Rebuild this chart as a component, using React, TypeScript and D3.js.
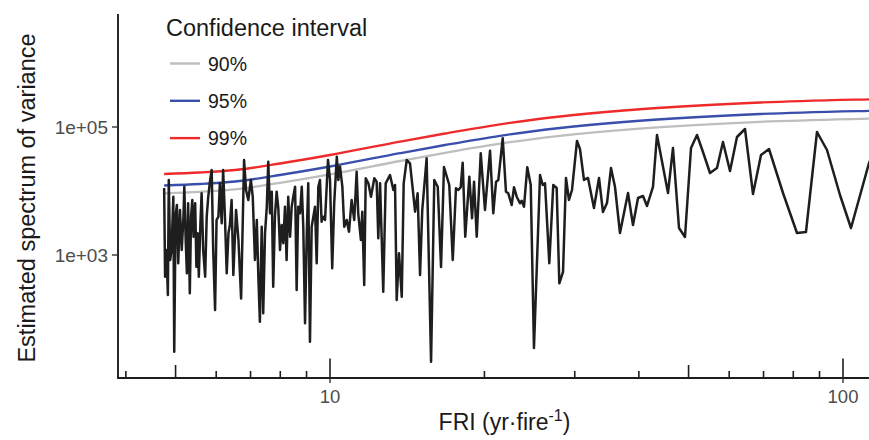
import React from "react";
import * as d3 from "d3";

// ---- Data ----
const fri = [
  4.75, 4.77, 4.80, 4.83, 4.85, 4.88, 4.91, 4.95, 4.97, 5.00, 5.03, 5.06, 5.10, 5.14, 5.18, 5.20, 5.23, 5.26, 5.29, 5.33,
  5.36, 5.39, 5.42, 5.46, 5.49, 5.52, 5.55, 5.59, 5.62, 5.66, 5.71, 5.75, 5.79, 5.84, 5.88, 5.92, 5.97, 6.01, 6.06, 6.10,
  6.15, 6.19, 6.24, 6.29, 6.34, 6.38, 6.43, 6.48, 6.56, 6.63, 6.71, 6.80, 6.86, 6.93, 7.01, 7.07, 7.14, 7.20, 7.25, 7.30,
  7.36, 7.41, 7.47, 7.53, 7.58, 7.64, 7.70, 7.75, 7.81, 7.87, 7.93, 7.99, 8.05, 8.11, 8.17, 8.23, 8.29, 8.36, 8.42, 8.48,
  8.55, 8.61, 8.67, 8.74, 8.81, 8.87, 8.94, 9.01, 9.07, 9.14, 9.21, 9.28, 9.35, 9.42, 9.49, 9.56, 9.63, 9.70, 9.78, 9.91,
  10.0, 10.10, 10.19, 10.31, 10.38, 10.46, 10.57, 10.66, 10.78, 10.89, 11.02, 11.15, 11.27, 11.35, 11.49, 11.56, 11.66, 11.74, 11.88, 12.02,
  12.20, 12.33, 12.42, 12.52, 12.70, 12.84, 13.09, 13.29, 13.39, 13.49, 13.63, 13.80, 13.92, 14.11, 14.32, 14.47, 14.65, 14.82, 14.98, 15.13,
  15.43, 15.74, 15.97, 16.22, 16.46, 16.68, 17.08, 17.35, 17.60, 17.79, 17.98, 18.14, 18.35, 18.69, 18.92, 19.09, 19.32, 19.67, 20.05, 20.51,
  20.81, 21.07, 21.29, 21.71, 22.03, 22.26, 22.60, 22.84, 23.12, 23.46, 23.64, 23.89, 24.24, 24.62, 24.98, 25.67, 25.98, 26.25, 26.76, 27.24,
  27.66, 27.99, 28.46, 28.84, 29.23, 29.63, 30.30, 30.71, 31.27, 31.84, 32.12, 32.70, 33.45, 34.05, 34.67, 35.30, 35.94, 36.75, 38.10, 38.96,
  39.85, 40.75, 41.49, 42.62, 43.39, 45.59, 46.62, 47.90, 49.20, 50.55, 51.93, 53.34, 55.05, 56.80, 58.35, 60.22, 62.14, 64.41, 66.77, 69.21,
  71.74, 76.39, 81.34, 84.69, 88.98, 93.07, 98.66, 103.65, 112.38, 118.1,
];

const spectrum = [
  11140, 458, 1197, 237, 14860, 835, 1197, 8144, 30.8, 3966, 6043, 742, 5048, 1197, 3966, 11670, 1931, 518, 6424, 252,
  3966, 7234, 1931, 6424, 657, 2183, 458, 3128, 9207, 1197, 458, 3966, 8144, 14860, 21290, 1197, 138, 3524, 3966, 13190,
  3128, 21290, 3966, 518, 2183, 2943, 7234, 487, 5048, 1715, 210, 30510, 10370, 7234, 14860, 8144, 835, 3524, 458, 90.7,
  2768, 123, 2183, 5685, 28700, 4482, 9752, 320, 3966, 9752, 5367, 1197, 2943, 1523, 5685, 835, 8144, 1931, 5685, 8144,
  11670, 284, 5685, 4482, 11670, 2768, 85.7, 2183, 13190, 44.2, 2768, 3966, 5685, 742, 11670, 14860, 3313, 3966, 3524, 30510,
  14860, 620, 6424, 34350, 14860, 23970, 11670, 2768, 3524, 2312, 7234, 3524, 20020, 4482, 1715, 4750, 340, 15790, 13190, 8144,
  15790, 13980, 1823, 13190, 267, 13190, 17780, 10370, 12410, 198, 1063, 223, 13190, 30510, 27090, 12410, 4750, 9207, 487, 5048,
  32430, 21.5, 14860, 11670, 649, 23710, 12410, 835, 11020, 10370, 11430, 27690, 1931, 16730, 3745, 13980, 1931, 38820, 5048, 42630,
  4482, 13980, 14860, 66600, 9752, 9207, 6043, 11430, 8144, 6424, 7053, 5685, 23460, 12410, 35.2, 17780, 12410, 13190, 742, 12410,
  11140, 361, 543, 15970, 7234, 10370, 60430, 45320, 14860, 15970, 11140, 5425, 15970, 4697, 6494, 22880, 11550, 2207, 9306, 2943,
  7776, 8354, 5830, 11550, 74990, 9306, 46970, 2642, 1911, 46970, 74990, 40680, 19110, 22880, 58300, 20540, 69790, 93060, 8980, 36520,
  45320, 9306, 2207, 2288, 83540, 43710, 8660, 2642, 27380, 62660,
];

// Confidence-interval curves (sampled along FRI)
const ciFri = [4.75, 5.58, 6.53, 7.99, 10.0, 13.69, 16.76, 21.45, 28.08, 42.05, 68.9, 112.38, 123.5];
const ci90 = [9207, 9716, 10630, 13430, 18230, 29430, 39540, 55040, 72860, 97160, 120600, 135300, 137800];
const ci95 = [12190, 12870, 14080, 17780, 24140, 38960, 52330, 72860, 96470, 128700, 159700, 179200, 182400];
const ci99 = [18440, 19460, 21290, 26900, 36520, 58930, 79140, 110200, 145900, 194600, 241400, 270900, 275800];

const legendLabels = ["90%", "95%", "99%"];
const legendColors = ["#bebebe", "#3a4eac", "#ee2a2a"];
const yTickValues = [1e3, 1e5];
const yTickLabels = ["1e+03", "1e+05"];
const xLabelValues = [10, 100];
const xLabelText = ["10", "100"];
const logTickMajor = [10, 100];
const logTickMid = [5, 50];
const logTickMinor = [4, 6, 7, 8, 9, 20, 30, 40, 60, 70, 80, 90];

const W = 869;
const H = 440;
const left = 118;
const top = 14;
const bottom = 378;
const panelRight = 891;
const font = "'Liberation Sans', Arial, Helvetica, sans-serif";

export default function App() {
  const x = d3
    .scaleLog()
    .domain([10 ** (1 - 212 / 513), 10 ** (1 + 561 / 513)])
    .range([left, panelRight]);
  const y = d3
    .scaleLog()
    .domain([10 ** (3 - 123 / 64), 10 ** (3 + 241 / 64)])
    .range([bottom, top]);

  const specLine = d3
    .line<number>()
    .x((_, i) => x(fri[i]))
    .y((d) => y(d));

  const ciLine = d3
    .line<number>()
    .x((_, i) => x(ciFri[i]))
    .y((d) => y(d))
    .curve(d3.curveMonotoneX);

  const ciSeries = [ci90, ci95, ci99];

  return (
    <div style={{ position: "absolute", left: 0, top: 0 }}>
      <svg width={W} height={H} style={{ display: "block", background: "#ffffff" }}>
        <defs>
          <clipPath id="panel">
            <rect x={left} y={top} width={W - left} height={bottom - top} />
          </clipPath>
        </defs>

        <g clipPath="url(#panel)">
          {ciSeries.map((s, i) => (
            <path key={i} d={ciLine(s) || ""} fill="none" stroke={legendColors[i]} strokeWidth={2.3} />
          ))}
          <path
            d={specLine(spectrum) || ""}
            fill="none"
            stroke="#1e1e1e"
            strokeWidth={2.5}
            strokeLinejoin="round"
          />
        </g>

        {/* log ticks inside panel */}
        {logTickMinor.map((v) => (
          <line key={"mi" + v} x1={x(v)} x2={x(v)} y1={bottom} y2={bottom - 7} stroke="#1e1e1e" strokeWidth={1.6} />
        ))}
        {logTickMid.map((v) => (
          <line key={"md" + v} x1={x(v)} x2={x(v)} y1={bottom} y2={bottom - 13} stroke="#1e1e1e" strokeWidth={1.6} />
        ))}
        {logTickMajor.map((v) => (
          <line key={"mj" + v} x1={x(v)} x2={x(v)} y1={bottom} y2={bottom - 19.5} stroke="#1e1e1e" strokeWidth={1.6} />
        ))}

        {/* axes */}
        <line x1={left} x2={W} y1={bottom} y2={bottom} stroke="#1e1e1e" strokeWidth={1.9} />
        <line x1={left} x2={left} y1={top} y2={bottom + 1} stroke="#1e1e1e" strokeWidth={1.9} />

        {/* x ticks & labels */}
        {xLabelValues.map((v, i) => (
          <g key={"xl" + v}>
            <line x1={x(v)} x2={x(v)} y1={bottom} y2={bottom + 5} stroke="#333" strokeWidth={1.4} />
            <text
              x={x(v)}
              y={403}
              textAnchor="middle"
              fontFamily={font}
              fontSize={18.5}
              fill="#4d4d4d"
            >
              {xLabelText[i]}
            </text>
          </g>
        ))}

        {/* y ticks & labels */}
        {yTickValues.map((v, i) => (
          <g key={"yl" + v}>
            <line x1={left - 6} x2={left} y1={y(v)} y2={y(v)} stroke="#333" strokeWidth={1.4} />
            <text
              x={108}
              y={y(v) + 6.7}
              textAnchor="end"
              fontFamily={font}
              fontSize={19}
              fill="#4d4d4d"
            >
              {yTickLabels[i]}
            </text>
          </g>
        ))}

        {/* axis titles */}
        <text x={504.5} y={430} textAnchor="middle" fontFamily={font} fontSize={23} fill="#1a1a1a">
          FRI (yr·fire
          <tspan dy={-9} fontSize={16}>-1</tspan>
          <tspan dy={9}>)</tspan>
        </text>
        <text
          transform={`translate(35,198) rotate(-90)`}
          textAnchor="middle"
          fontFamily={font}
          fontSize={23.5}
          fill="#1a1a1a"
        >
          Estimated spectrum of variance
        </text>

        {/* legend */}
        <text x={166} y={36} fontFamily={font} fontSize={23.5} fill="#1a1a1a">
          Confidence interval
        </text>
        {legendLabels.map((lab, i) => {
          const cy = 63.5 + i * 37.3;
          return (
            <g key={lab}>
              <line x1={170} x2={200} y1={cy} y2={cy} stroke={legendColors[i]} strokeWidth={2.4} />
              <text x={208} y={cy + 7} fontFamily={font} fontSize={19.5} fill="#1a1a1a">
                {lab}
              </text>
            </g>
          );
        })}
      </svg>
    </div>
  );
}
